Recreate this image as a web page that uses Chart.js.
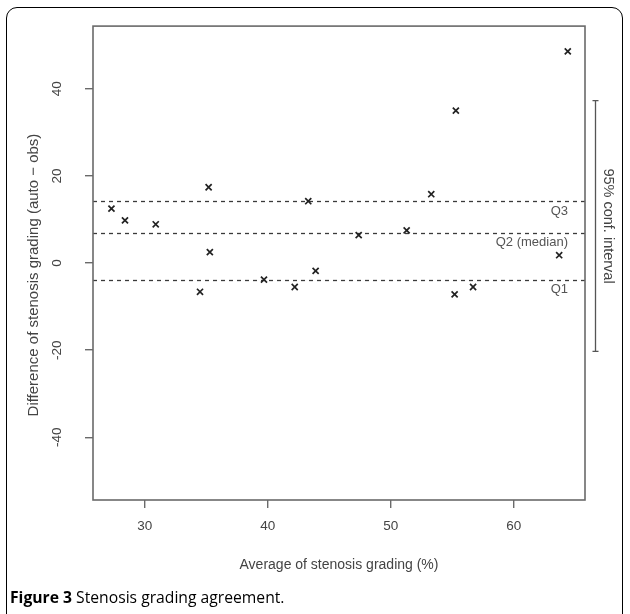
<!DOCTYPE html>
<html>
<head>
<meta charset="utf-8">
<script src="https://cdn.jsdelivr.net/npm/chart.js@4.4.1/dist/chart.umd.min.js"></script>
<style>
  html, body { margin: 0; padding: 0; background: #fff; overflow: hidden; }
  #wrap { position: relative; width: 630px; height: 614px; overflow: hidden; }
  #frame { position: absolute; left: 6px; top: 7px; width: 617px; height: 640px;
           border: 1px solid #000; border-radius: 11px; box-sizing: border-box; }
  #stenosisChart { position: absolute; left: 0; top: 0; }
  #caption { position: absolute; left: 10px; top: 586px; font-family: "Open Sans", sans-serif;
             font-size: 15.7px; color: #000; white-space: nowrap; }
  #caption b { font-weight: 700; }
</style>
</head>
<body>
<div id="wrap">
  <div id="frame"></div>
  <canvas id="stenosisChart" width="630" height="614"></canvas>
  <div id="caption"><b>Figure 3</b> Stenosis grading agreement.</div>
</div>
<script>
// Average of the two gradings (%) and their difference (auto - obs)
const averages = [27.3, 28.4, 30.9, 34.5, 35.2, 35.3, 39.7, 42.2, 43.3, 43.9, 47.4, 51.3, 53.3, 55.2, 55.3, 56.7, 63.7, 64.4];
const differences = [12.5, 9.8, 8.9, -6.6, 17.4, 2.5, -3.8, -5.5, 14.2, -1.8, 6.4, 7.5, 15.8, -7.2, 35.0, -5.5, 1.8, 48.6];

// quartiles of the differences
const quartileNames = ['Q3', 'Q2 (median)', 'Q1'];
const quartileValues = [14.2, 7.0, -3.8];

// 95% confidence interval
const confInterval = [-20.3, 37.3];

const xTicks = [30, 40, 50, 60];
const yTicks = [-40, -20, 0, 20, 40];

const yTitle = 'Difference of stenosis grading (auto \u2212 obs)';

const textColor = '#444';
const axisColor = '#6a6a6a';
const fontFamily = '"Liberation Sans", Arial, sans-serif';

const overlays = {
    id: 'overlays',
    beforeDatasetsDraw(chart) {
        const c = chart.ctx;
        const area = chart.chartArea;
        const y = chart.scales.y;
        c.save();
        // dashed quartile lines
        c.strokeStyle = '#3a3a3a';
        c.lineWidth = 1.3;
        c.setLineDash([4, 4]);
        quartileValues.forEach(v => {
            const py = Math.round(y.getPixelForValue(v)) + 0.5;
            c.beginPath();
            c.moveTo(area.left, py);
            c.lineTo(area.right, py);
            c.stroke();
        });
        c.setLineDash([]);
        c.fillStyle = '#555';
        c.font = '13px ' + fontFamily;
        c.textAlign = 'right';
        c.textBaseline = 'middle';
        quartileValues.forEach((v, i) => {
            c.fillText(quartileNames[i], area.right - 17, y.getPixelForValue(v) + 10);
        });
        c.restore();
    },
    afterDraw(chart) {
        const c = chart.ctx;
        const area = chart.chartArea;
        const y = chart.scales.y;
        c.save();
        // plot box
        c.strokeStyle = axisColor;
        c.lineWidth = 1.6;
        c.strokeRect(area.left, area.top, area.right - area.left, area.bottom - area.top);
        // y axis title, sits a little below the middle in the original
        c.save();
        c.translate(34, (area.top + area.bottom) / 2 + 12);
        c.rotate(-Math.PI / 2);
        c.fillStyle = textColor;
        c.font = '15px ' + fontFamily;
        c.textAlign = 'center';
        c.textBaseline = 'middle';
        c.fillText(yTitle, 0, 0);
        c.restore();
        // confidence interval bar in the right margin
        const cx = area.right + 10.5;
        const top = y.getPixelForValue(confInterval[1]);
        const bot = y.getPixelForValue(confInterval[0]);
        c.strokeStyle = '#555';
        c.lineWidth = 1.3;
        c.beginPath();
        c.moveTo(cx, top); c.lineTo(cx, bot);
        c.moveTo(cx - 3, top); c.lineTo(cx + 3, top);
        c.moveTo(cx - 3, bot); c.lineTo(cx + 3, bot);
        c.stroke();
        c.translate(cx + 12, (top + bot) / 2);
        c.rotate(Math.PI / 2);
        c.fillStyle = textColor;
        c.font = '14.5px ' + fontFamily;
        c.textAlign = 'center';
        c.textBaseline = 'middle';
        c.fillText('95% conf. interval', 0, 0);
        c.restore();
    }
};

const ctx = document.getElementById('stenosisChart').getContext('2d');
const chart = new Chart(ctx, {
    type: 'scatter',
    data: {
        datasets: [{
            label: 'difference',
            data: averages.map((a, i) => ({ x: a, y: differences[i] })),
            pointStyle: 'crossRot',
            pointRadius: 4.3,
            borderColor: '#222',
            backgroundColor: '#222',
            borderWidth: 1.7
        }]
    },
    plugins: [overlays],
    options: {
        responsive: false,
        animation: false,
        events: [],
        layout: { padding: { left: 0, right: 45, top: 24, bottom: 34 } },
        plugins: { legend: { display: false }, tooltip: { enabled: false } },
        scales: {
            x: {
                type: 'linear',
                min: 25.8,
                max: 65.8,
                afterBuildTicks: s => { s.ticks = xTicks.map(v => ({ value: v })); },
                afterFit: s => { s.height = 80; },
                grid: { drawOnChartArea: false, drawTicks: true, tickLength: 8, color: axisColor, lineWidth: 1.4 },
                border: { display: false },
                ticks: { color: textColor, padding: 10, maxRotation: 0, font: { family: fontFamily, size: 13.5 } },
                title: { display: true, text: 'Average of stenosis grading (%)', color: textColor, padding: { top: 0, bottom: 6.6 },
                         font: { family: fontFamily, size: 14 } }
            },
            y: {
                type: 'linear',
                min: -54.4,
                max: 54.4,
                afterBuildTicks: s => { s.ticks = yTicks.map(v => ({ value: v })); },
                afterFit: s => { s.width = 93; },
                grid: { drawOnChartArea: false, drawTicks: true, tickLength: 8, color: axisColor, lineWidth: 1.4 },
                border: { display: false },
                ticks: { color: textColor, padding: 18, minRotation: 90, maxRotation: 90, crossAlign: 'center',
                         font: { family: fontFamily, size: 13.5 } },
                title: { display: false }
            }
        }
    }
});
</script>
</body>
</html>
